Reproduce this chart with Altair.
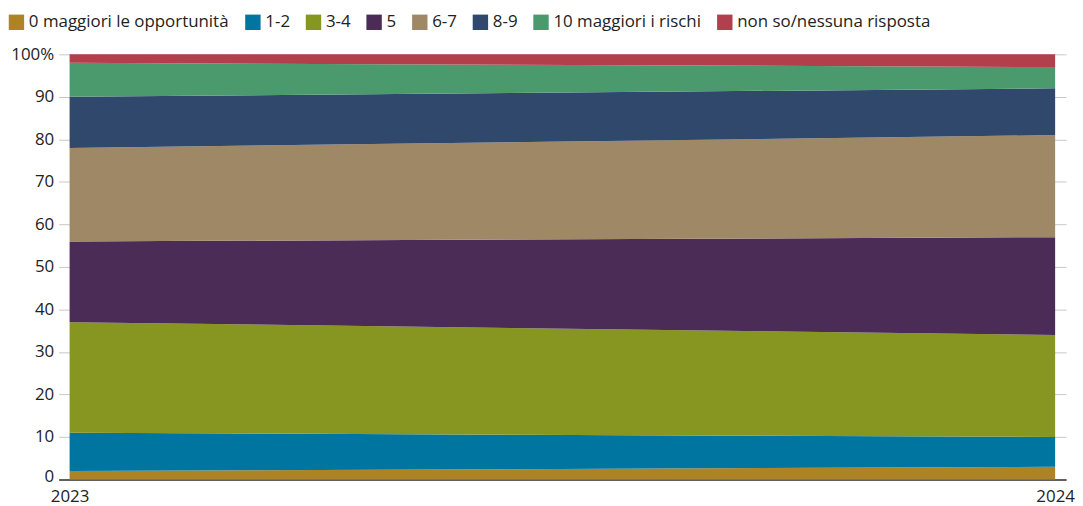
import altair as alt
import pandas as pd

categories = ["0 maggiori le opportunità", "1-2", "3-4", "5", "6-7", "8-9",
              "10 maggiori i rischi", "non so/nessuna risposta"]
colors = ["#AE8326", "#00759F", "#879620", "#4B2C56", "#9F8866", "#2F486B",
          "#4A9A6E", "#B13F4C"]
years = [2023, 2024]
v2023 = [2, 9, 26, 19, 22, 12, 8, 2]
v2024 = [3, 7, 24, 23, 24, 11, 5, 3]

rows = []
for i, c in enumerate(categories):
    rows.append({"year": years[0], "cat": c, "val": v2023[i], "ord": i})
    rows.append({"year": years[1], "cat": c, "val": v2024[i], "ord": i})
df = pd.DataFrame(rows)

FONT = "Open Sans"
FS = 17

chart = alt.Chart(df).mark_area(interpolate="linear").encode(
    x=alt.X("year:Q",
            scale=alt.Scale(domain=[2023, 2024], nice=False, padding=11, zero=False),
            axis=alt.Axis(values=years, format="d", title=None, grid=False,
                          ticks=False, domain=True, domainColor="#333333",
                          domainWidth=1.5, labelFont=FONT, labelFontSize=FS,
                          labelColor="#222222", labelPadding=9)),
    y=alt.Y("val:Q", stack="zero",
            scale=alt.Scale(domain=[0, 100], nice=False),
            axis=alt.Axis(values=list(range(0, 101, 10)), title=None,
                          grid=True, gridColor="#c8c8c8", gridWidth=1,
                          ticks=False, domain=False, labelFont=FONT,
                          labelFontSize=FS, labelColor="#222222",
                          labelPadding=5,
                          labelOffset={"condition": {"test": "datum.value === 0", "value": -3}, "value": 0},
                          labelExpr="datum.value == 100 ? '100%' : datum.label")),
    color=alt.Color("cat:N",
                    scale=alt.Scale(domain=categories, range=colors),
                    legend=alt.Legend(title=None, orient="none", direction="horizontal",
                                      legendX=-51, legendY=-41, symbolType="square",
                                      symbolSize=240, symbolStrokeWidth=0,
                                      symbolOpacity=1,
                                      labelFont=FONT, labelFontSize=FS,
                                      labelColor="#222222", labelOffset=4,
                                      columnPadding=15, labelLimit=400)),
    order=alt.Order("ord:Q"),
).properties(
    width=1014, height=428,
    padding={"left": 0, "top": 4, "right": 0, "bottom": 0},
).configure_view(stroke=None)

chart.save("out.html", embed_options={"renderer": "svg", "actions": False})
